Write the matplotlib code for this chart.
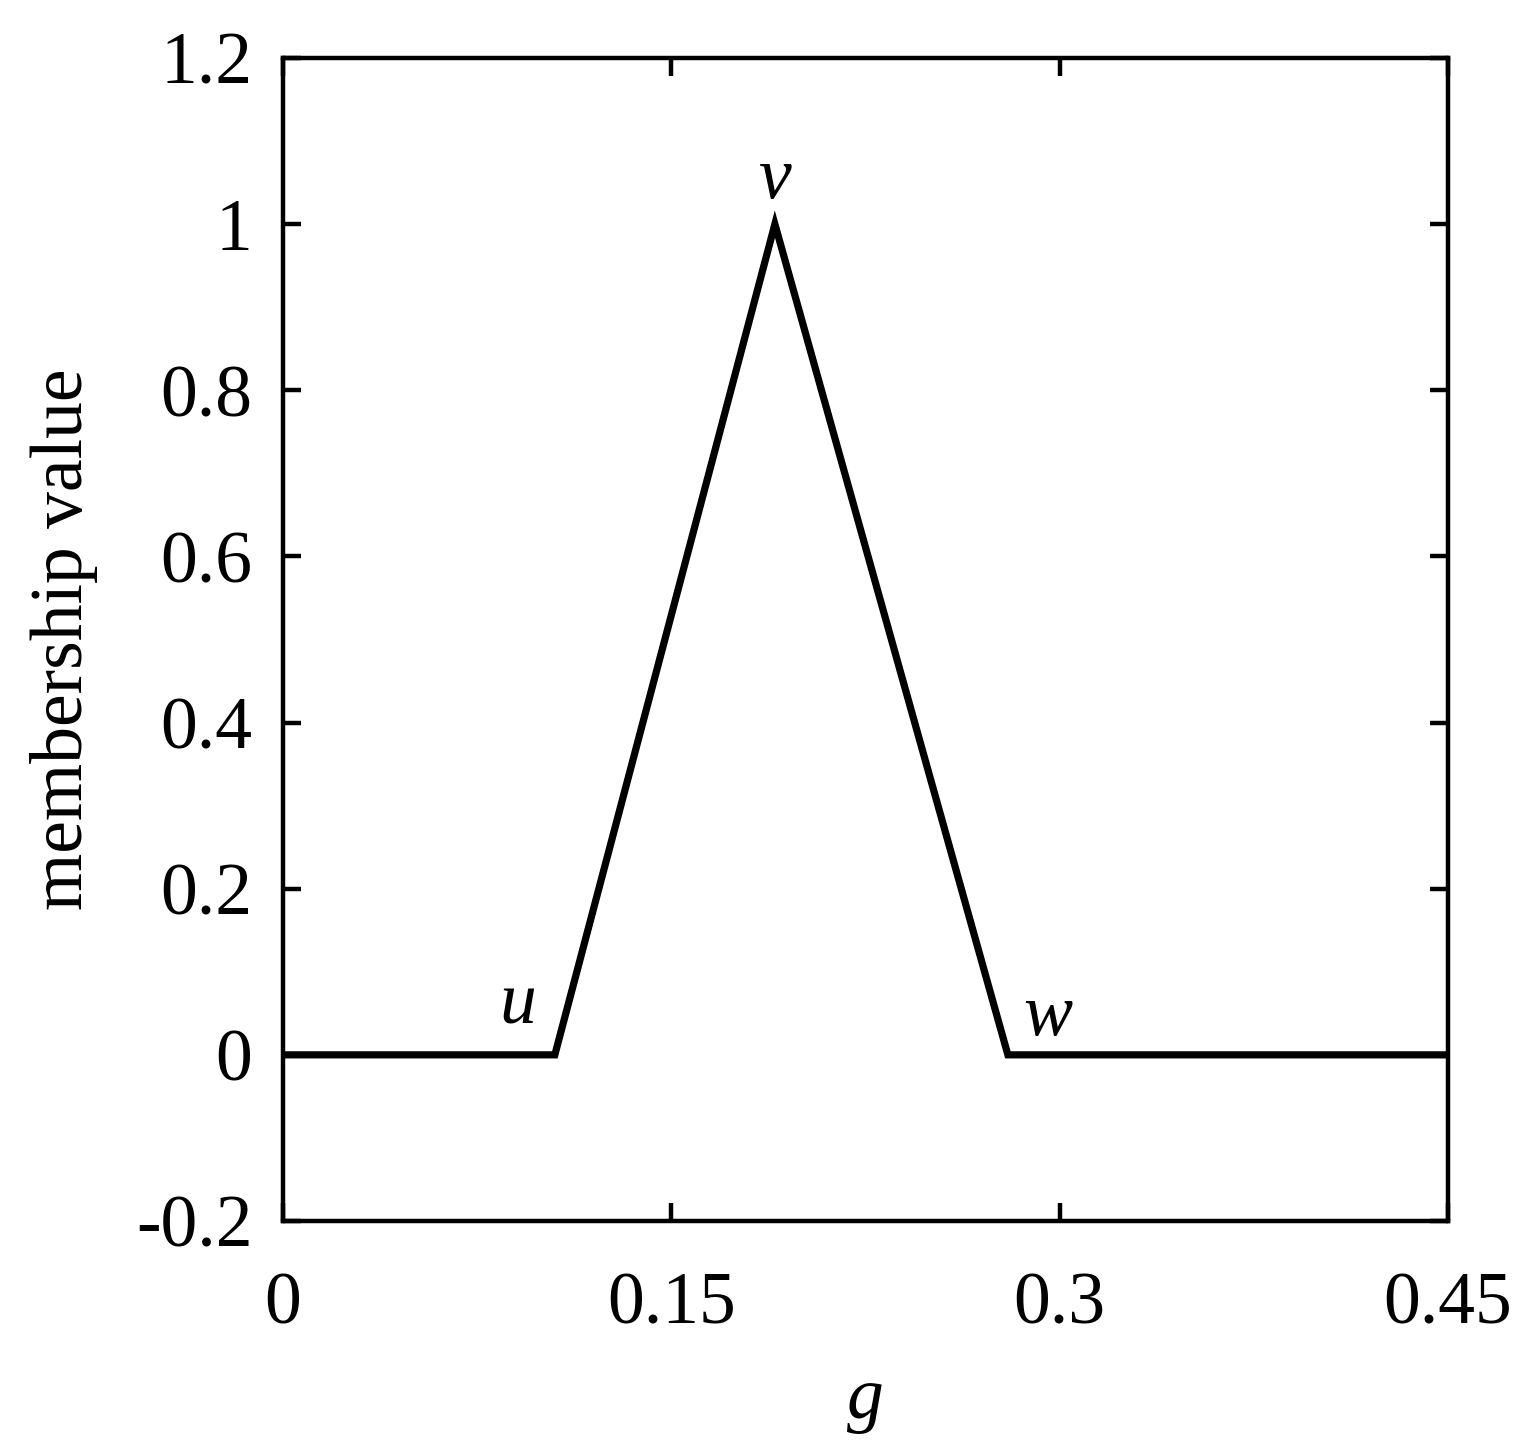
import matplotlib
matplotlib.use("Agg")
import matplotlib.pyplot as plt

plt.rcParams['font.family'] = ['Liberation Serif', 'DejaVu Serif']

# triangular membership function u-v-w on g
g = [0.0, 0.105, 0.19, 0.28, 0.45]
mu = [0.0, 0.0, 1.0, 0.0, 0.0]
point_names = ['u', 'v', 'w']
xticks = [0, 0.15, 0.3, 0.45]
xticklabels = ['0', '0.15', '0.3', '0.45']
yticks = [-0.2, 0, 0.2, 0.4, 0.6, 0.8, 1, 1.2]
yticklabels = ['-0.2', '0', '0.2', '0.4', '0.6', '0.8', '1', '1.2']

fs = 53

fig = plt.figure(figsize=(15.22, 14.45), dpi=100)
ax = fig.add_axes([283 / 1522, 1 - 1221 / 1445, 1165 / 1522, 1163 / 1445])

ax.plot(g, mu, color='black', linewidth=5.2, solid_joinstyle='miter')

# labels next to the corners
ax.text(0.0908, 0.038, point_names[0], fontsize=fs, style='italic', ha='center', va='baseline')
ax.text(0.19, 1.031, point_names[1], fontsize=fs, style='italic', ha='center', va='baseline')
ax.text(0.2955, 0.024, point_names[2], fontsize=fs, style='italic', ha='center', va='baseline')

ax.set_xlim(0, 0.45)
ax.set_ylim(-0.2, 1.2)
ax.set_xticks(xticks)
ax.set_xticklabels(xticklabels)
ax.set_yticks(yticks)
ax.set_yticklabels(yticklabels)
ax.tick_params(direction='in', length=13, width=3.2, labelsize=fs,
               top=True, right=True)
ax.tick_params(axis='x', pad=37)
ax.tick_params(axis='y', pad=22)
for s in ax.spines.values():
    s.set_linewidth(3.2)

ax.set_xlabel('g', fontsize=fs, style='italic', labelpad=19)
ax.set_ylabel('membership value', fontsize=fs, labelpad=27)

fig.savefig('out.png', dpi=100)
